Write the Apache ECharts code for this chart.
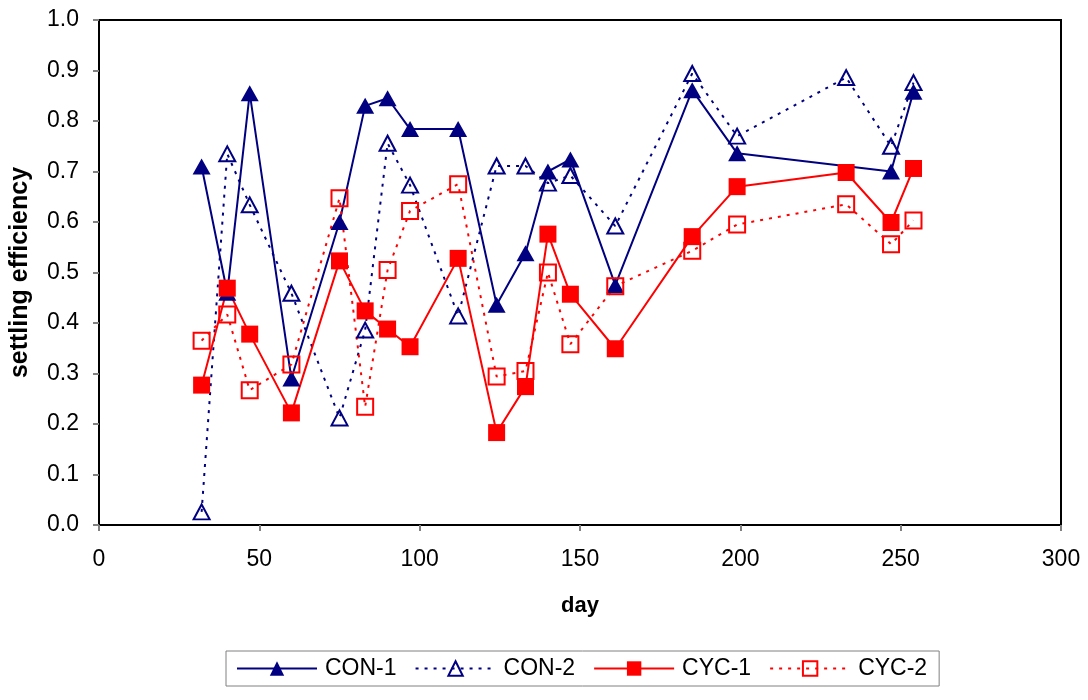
<!DOCTYPE html>
<html>
<head>
<meta charset="utf-8">
<script src="https://cdn.jsdelivr.net/npm/echarts@6/dist/echarts.min.js"></script>
<style>
  html, body { margin: 0; padding: 0; background: #fff; }
  #chart { width: 1088px; height: 700px; }
</style>
</head>
<body>
<div id="chart"></div>
<script>
// Sampling days (CON-1 was not sampled on day 233)
const days = [32, 40, 47, 60, 75, 83, 90, 97, 112, 124, 133, 140, 147, 161, 185, 199, 233, 247, 254];
const con1Days = [32, 40, 47, 60, 75, 83, 90, 97, 112, 124, 133, 140, 147, 161, 185, 199, 247, 254];

// Settling efficiency per reactor
const con1 = [0.71, 0.46, 0.855, 0.29, 0.60, 0.83, 0.845, 0.784, 0.784, 0.436, 0.538, 0.70, 0.724, 0.475, 0.861, 0.736, 0.70, 0.858];
const con2 = [0.026, 0.735, 0.634, 0.459, 0.212, 0.386, 0.756, 0.673, 0.414, 0.711, 0.711, 0.677, 0.692, 0.592, 0.894, 0.77, 0.886, 0.75, 0.876];
const cyc1 = [0.277, 0.469, 0.378, 0.222, 0.523, 0.424, 0.388, 0.353, 0.528, 0.183, 0.274, 0.576, 0.457, 0.349, 0.571, 0.67, 0.698, 0.599, 0.706];
const cyc2 = [0.365, 0.417, 0.267, 0.318, 0.647, 0.234, 0.505, 0.622, 0.675, 0.294, 0.305, 0.50, 0.358, 0.473, 0.543, 0.595, 0.635, 0.556, 0.603];

const seriesNames = ['CON-1', 'CON-2', 'CYC-1', 'CYC-2'];

const NAVY = '#000080';
const RED = '#FF0000';
const FONT = "'Liberation Sans', Arial, sans-serif";

const pairs = (xs, ys) => xs.map((x, i) => [x, ys[i]]);

const chart = echarts.init(document.getElementById('chart'), null, { renderer: 'canvas' });

function lineSeries(name, data, color, filled, symbol, size, dotted) {
  return {
    name: name,
    type: 'line',
    data: data,
    symbol: symbol,
    symbolSize: size,
    showAllSymbol: true,
    lineStyle: { color: color, width: 2, type: dotted ? [3, 6] : 'solid' },
    itemStyle: filled
      ? { color: color, borderColor: color, borderWidth: 0 }
      : { color: 'rgba(255,255,255,0)', borderColor: color, borderWidth: 2 },
    emphasis: { disabled: true }
  };
}

chart.setOption({
  animation: false,
  backgroundColor: '#fff',
  textStyle: { fontFamily: FONT },
  grid: {
    left: 99, right: 27, top: 20, bottom: 175,
    show: true, borderColor: '#000', borderWidth: 2, backgroundColor: 'transparent'
  },
  xAxis: {
    type: 'value',
    min: 0, max: 300, interval: 50,
    name: 'day',
    nameLocation: 'middle',
    nameGap: 70,
    nameTextStyle: { fontFamily: FONT, fontSize: 22, fontWeight: 'bold', color: '#000' },
    axisLine: { show: true, onZero: false, lineStyle: { color: '#000', width: 2 } },
    axisTick: { show: true, inside: false, length: 6, lineStyle: { color: '#808080', width: 2 } },
    axisLabel: { fontFamily: FONT, fontSize: 23, color: '#000', margin: 23 },
    splitLine: { show: false }
  },
  yAxis: {
    type: 'value',
    min: 0, max: 1, interval: 0.1,
    name: 'settling efficiency',
    nameLocation: 'middle',
    nameGap: 66,
    nameRotate: 90,
    nameTextStyle: { fontFamily: FONT, fontSize: 25, fontWeight: 'bold', color: '#000' },
    axisLine: { show: true, onZero: false, lineStyle: { color: '#000', width: 2 } },
    axisTick: { show: true, inside: false, length: 6, lineStyle: { color: '#808080', width: 2 } },
    axisLabel: {
      fontFamily: FONT, fontSize: 23, color: '#000', margin: 20,
      formatter: v => v.toFixed(1)
    },
    splitLine: { show: false }
  },
  legend: {
    data: seriesNames,
    left: 226, top: 651,
    orient: 'horizontal',
    itemWidth: 80, itemHeight: 18, itemGap: 18,
    padding: [6, 12, 6, 10],
    borderColor: '#808080', borderWidth: 1,
    textStyle: { fontFamily: FONT, fontSize: 23, color: '#000', padding: [0, 0, 0, 3] }
  },
  series: [
    lineSeries(seriesNames[0], pairs(con1Days, con1), NAVY, true, 'triangle', [18, 16], false),
    lineSeries(seriesNames[1], pairs(days, con2), NAVY, false, 'triangle', [16, 15], true),
    lineSeries(seriesNames[2], pairs(days, cyc1), RED, true, 'rect', 17, false),
    lineSeries(seriesNames[3], pairs(days, cyc2), RED, false, 'rect', 16, true)
  ]
});
</script>
</body>
</html>
